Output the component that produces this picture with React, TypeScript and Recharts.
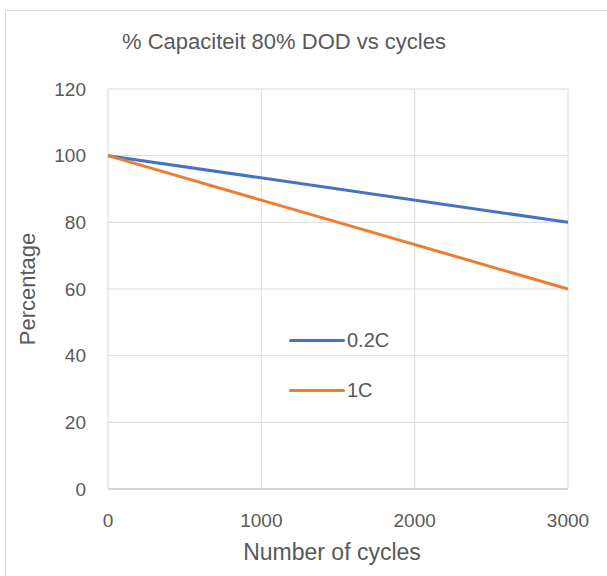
import React from 'react';
import { LineChart, Line, XAxis, YAxis, CartesianGrid, Legend } from 'recharts';

const cycles = [0, 3000];
const rate02C = [100, 80];
const rate1C = [100, 60];
const xTicks = [0, 1000, 2000, 3000];
const yTicks = [0, 20, 40, 60, 80, 100, 120];

const chartData = cycles.map((c, i) => ({ cycles: c, r02: rate02C[i], r1: rate1C[i] }));

const FONT = '"Liberation Sans", Arial, sans-serif';
const TEXT = '#595959';

function LegendBox({ payload }: any) {
  return (
    <div style={{ fontFamily: FONT, fontSize: 20, color: TEXT }}>
      {(payload || []).map((p: any, i: number) => (
        <div key={i} style={{ display: 'flex', alignItems: 'center', height: 24, marginBottom: i === 0 ? 26 : 0 }}>
          <div style={{ width: 56, height: 3, background: p.color, borderRadius: 2 }} />
          <span style={{ marginLeft: 2 }}>{p.value}</span>
        </div>
      ))}
    </div>
  );
}

export default function App() {
  return (
    <div style={{ position: 'absolute', left: 0, top: 0, width: 607, height: 576, background: '#fff', overflow: 'hidden' }}>
      <div style={{ position: 'absolute', left: 5, top: 10, width: 620, height: 600, border: '1px solid #d9d9d9' }} />
      <div style={{ position: 'absolute', left: 0, top: 29, width: 568, textAlign: 'center', fontFamily: FONT, fontSize: 22, color: TEXT }}>
        % Capaciteit 80% DOD vs cycles
      </div>
      <div style={{ position: 'absolute', left: 0, top: 0 }}>
        <LineChart width={607} height={576} data={chartData} margin={{ top: 89, right: 39, bottom: 0, left: 0 }}>
          <CartesianGrid stroke="#d9d9d9" strokeWidth={1} />
          <XAxis
            dataKey="cycles"
            type="number"
            domain={[0, 3000]}
            ticks={xTicks}
            height={87}
            tickLine={false}
            tickSize={0}
            tickMargin={25}
            axisLine={{ stroke: '#bfbfbf' }}
            tick={{ fill: TEXT, fontSize: 19, fontFamily: FONT }}
            label={{ value: 'Number of cycles', position: 'insideBottom', offset: 16, dx: -6, fill: TEXT, fontSize: 23, fontFamily: FONT }}
          />
          <YAxis
            type="number"
            domain={[0, 120]}
            ticks={yTicks}
            width={108}
            tickLine={false}
            tickSize={0}
            tickMargin={22}
            axisLine={false}
            tick={{ fill: TEXT, fontSize: 19, fontFamily: FONT }}
            label={{ value: 'Percentage', angle: -90, position: 'insideLeft', offset: 27, fill: TEXT, fontSize: 22, fontFamily: FONT, style: { textAnchor: 'middle' } }}
          />
          <Legend
            layout="vertical"
            align="center"
            verticalAlign="middle"
            content={<LegendBox />}
            wrapperStyle={{ position: 'absolute', left: 289, top: 328, width: 120 }}
          />
          <Line dataKey="r02" name="0.2C" stroke="#4472c4" strokeWidth={3} dot={false} isAnimationActive={false} />
          <Line dataKey="r1" name="1C" stroke="#ed7d31" strokeWidth={3} dot={false} isAnimationActive={false} />
        </LineChart>
      </div>
    </div>
  );
}
